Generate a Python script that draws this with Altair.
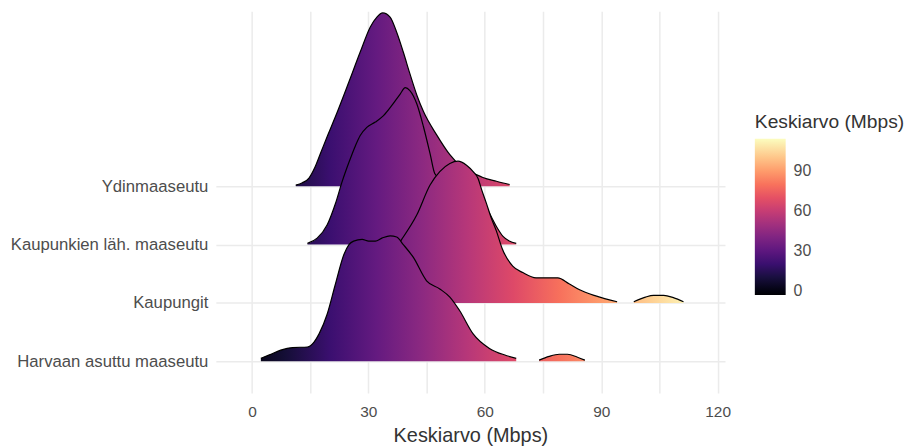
import altair as alt
import pandas as pd

FONT = "Liberation Sans"

categories = ["Harvaan asuttu maaseutu", "Kaupungit", "Kaupunkien läh. maaseutu", "Ydinmaaseutu"]

# Ridge outlines: x = Keskiarvo (Mbps), h = ridge height (in category units)
harvaan_x1 = [2.3, 4.5, 7.4, 10.5, 14.3, 16.0, 17.3, 19.4, 21.5, 23.7, 25.0, 26.2, 28.4, 30.1, 31.8, 33.5, 35.6, 37.3, 39.0, 41.6, 45.0, 48.4, 51.0, 53.5, 57.0, 61.2, 65.5, 68.1]
harvaan_h1 = [0.05, 0.11, 0.19, 0.235, 0.245, 0.33, 0.47, 0.81, 1.32, 1.83, 2.0, 2.06, 2.09, 2.06, 2.06, 2.11, 2.15, 2.13, 2.0, 1.78, 1.38, 1.24, 1.10, 0.87, 0.47, 0.22, 0.10, 0.05]
harvaan_x2 = [74.0, 76.6, 79.2, 81.3, 83.9, 85.8]
harvaan_h2 = [0.02, 0.085, 0.12, 0.12, 0.07, 0.02]

kaupungit_x1 = [21.0, 25.0, 29.0, 33.0, 36.0, 38.6, 42.5, 45.9, 48.4, 51.0, 53.1, 55.3, 57.0, 58.3, 59.1, 60.4, 61.7, 63.0, 64.5, 67.2, 69.8, 73.2, 78.8, 81.7, 84.3, 88.6, 94.1]
kaupungit_h1 = [0.02, 0.15, 0.35, 0.6, 0.85, 1.09, 1.51, 2.02, 2.25, 2.39, 2.43, 2.36, 2.25, 2.13, 1.96, 1.71, 1.45, 1.23, 0.93, 0.63, 0.52, 0.43, 0.43, 0.33, 0.23, 0.12, 0.02]
kaupungit_x2 = [98.4, 101.4, 103.5, 106.1, 108.6, 111.2]
kaupungit_h2 = [0.02, 0.10, 0.13, 0.13, 0.09, 0.02]

lah_x = [14.3, 16.8, 19.4, 21.5, 23.2, 25.0, 26.7, 27.9, 29.6, 31.8, 33.9, 36.0, 38.2, 39.5, 40.7, 42.5, 44.2, 45.9, 47.1, 49.0, 52.0, 55.0, 58.0, 61.0, 63.0, 64.7, 66.3, 68.1]
lah_h = [0.02, 0.11, 0.34, 0.70, 1.07, 1.41, 1.70, 1.87, 2.01, 2.10, 2.21, 2.38, 2.58, 2.69, 2.64, 2.41, 2.02, 1.56, 1.22, 1.10, 1.00, 0.95, 0.85, 0.56, 0.31, 0.14, 0.06, 0.02]

ydin_x = [11.3, 13.0, 14.7, 16.2, 17.7, 19.5, 21.5, 25.0, 27.9, 30.5, 32.2, 33.7, 35.6, 37.3, 39.0, 40.7, 42.5, 44.2, 47.6, 51.0, 54.0, 57.8, 59.5, 63.0, 66.4]
ydin_h = [0.02, 0.06, 0.14, 0.32, 0.57, 0.87, 1.19, 1.79, 2.30, 2.73, 2.90, 2.97, 2.90, 2.64, 2.30, 1.93, 1.56, 1.28, 0.88, 0.54, 0.33, 0.20, 0.15, 0.085, 0.03]

ridges = [
    (3, [(ydin_x, ydin_h)]),
    (2, [(lah_x, lah_h)]),
    (1, [(kaupungit_x1, kaupungit_h1), (kaupungit_x2, kaupungit_h2)]),
    (0, [(harvaan_x1, harvaan_h1), (harvaan_x2, harvaan_h2)]),
]

legend_values = [0, 30, 60, 90]
x_tick_values = [0, 15, 30, 45, 60, 75, 90, 105, 120]

# magma palette samples (style) and colour domain
magma = ["#000004", "#140e36", "#3b0f70", "#641a80", "#8c2981", "#b73779",
         "#de4968", "#f7705c", "#fe9f6d", "#fecf92", "#fcfdbf"]
c_lo, c_hi = -3.3, 114.5


def hex2rgb(h):
    return [int(h[i:i + 2], 16) for i in (1, 3, 5)]


def color_at(v):
    t = min(max((v - c_lo) / (c_hi - c_lo), 0.0), 1.0) * (len(magma) - 1)
    i = min(int(t), len(magma) - 2)
    f = t - i
    a, b = hex2rgb(magma[i]), hex2rgb(magma[i + 1])
    rgb = [round(a[k] + (b[k] - a[k]) * f) for k in range(3)]
    return "#%02x%02x%02x" % tuple(rgb)


def gradient_for(xmin, xmax):
    stops = [(0.0, color_at(xmin))]
    n = len(magma) - 1
    for k in range(n + 1):
        v = c_lo + k / n * (c_hi - c_lo)
        if xmin < v < xmax:
            stops.append(((v - xmin) / (xmax - xmin), magma[k]))
    stops.append((1.0, color_at(xmax)))
    return alt.Gradient(gradient="linear", x1=0, y1=0, x2=1, y2=0,
                        stops=[alt.GradientStop(offset=o, color=c) for o, c in stops])


x_scale = alt.Scale(domain=[-9.3, 121.9], nice=False, zero=False)
y_scale = alt.Scale(domain=[-0.545, 6.0], nice=False, zero=False)

label_expr = "[" + ",".join("'%s'" % c for c in categories) + "][datum.value]"

x_axis = alt.Axis(values=x_tick_values, labelExpr="datum.value % 30 == 0 ? datum.label : ''",
                  title="Keskiarvo (Mbps)", labelFontSize=15.5, labelPadding=12,
                  titleFontSize=20, titleFontWeight="normal", titlePadding=5,
                  grid=True, gridWidth=1.5)
y_axis = alt.Axis(values=[0, 1, 2, 3], labelExpr=label_expr, title=None, labelLimit=400,
                  labelFontSize=16.8, labelPadding=8, grid=True, gridWidth=1.5)

layers = []
all_rows = []
for idx, segs in ridges:
    for si, (xs, hs) in enumerate(segs):
        df = pd.DataFrame({"x": xs, "y": [idx + h for h in hs], "base": [idx] * len(xs)})
        all_rows.append(df)
        area = alt.Chart(df).mark_area(interpolate="monotone", fill=gradient_for(min(xs), max(xs)),
                                       strokeWidth=0, opacity=1).encode(
            x=alt.X("x:Q", scale=x_scale, axis=x_axis),
            y=alt.Y("y:Q", scale=y_scale, axis=y_axis),
            y2="base:Q",
        )
        line = alt.Chart(df).mark_line(interpolate="monotone", color="black", strokeWidth=1.2).encode(
            x=alt.X("x:Q", scale=x_scale, axis=x_axis),
            y=alt.Y("y:Q", scale=y_scale, axis=y_axis),
        )
        layers += [area, line]

legend_df = pd.concat(all_rows, ignore_index=True)
legend_layer = alt.Chart(legend_df).mark_point(filled=True, size=0, opacity=1).encode(
    x=alt.X("x:Q", scale=x_scale, axis=x_axis),
    y=alt.Y("y:Q", scale=y_scale, axis=y_axis),
    color=alt.Color("x:Q", scale=alt.Scale(scheme="magma", domain=[c_lo, c_hi], nice=False, zero=False),
                    legend=alt.Legend(title="Keskiarvo (Mbps)", values=legend_values, orient="none",
                                      legendX=542, legendY=102, direction="vertical",
                                      gradientLength=157, gradientThickness=31, gradientStrokeWidth=0,
                                      gradientOpacity=1,
                                      titleFontSize=19.3, titleFontWeight="normal", titleColor="#333333",
                                      titleFont=FONT, titlePadding=7,
                                      labelFontSize=16, labelColor="#4d4d4d", labelFont=FONT,
                                      labelOffset=8)),
)
layers.append(legend_layer)

chart = alt.layer(*layers).properties(
    width=512, height=384,
    padding={"left": 2, "top": 1, "right": 0, "bottom": 0},
    background="white",
).configure_view(stroke=None).configure_axis(
    labelFont=FONT, titleFont=FONT, labelColor="#4d4d4d", titleColor="#333333",
    gridColor="#ebebeb", domain=False, ticks=False,
)

chart.save("out.html", embed_options={"renderer": "svg", "actions": False})
